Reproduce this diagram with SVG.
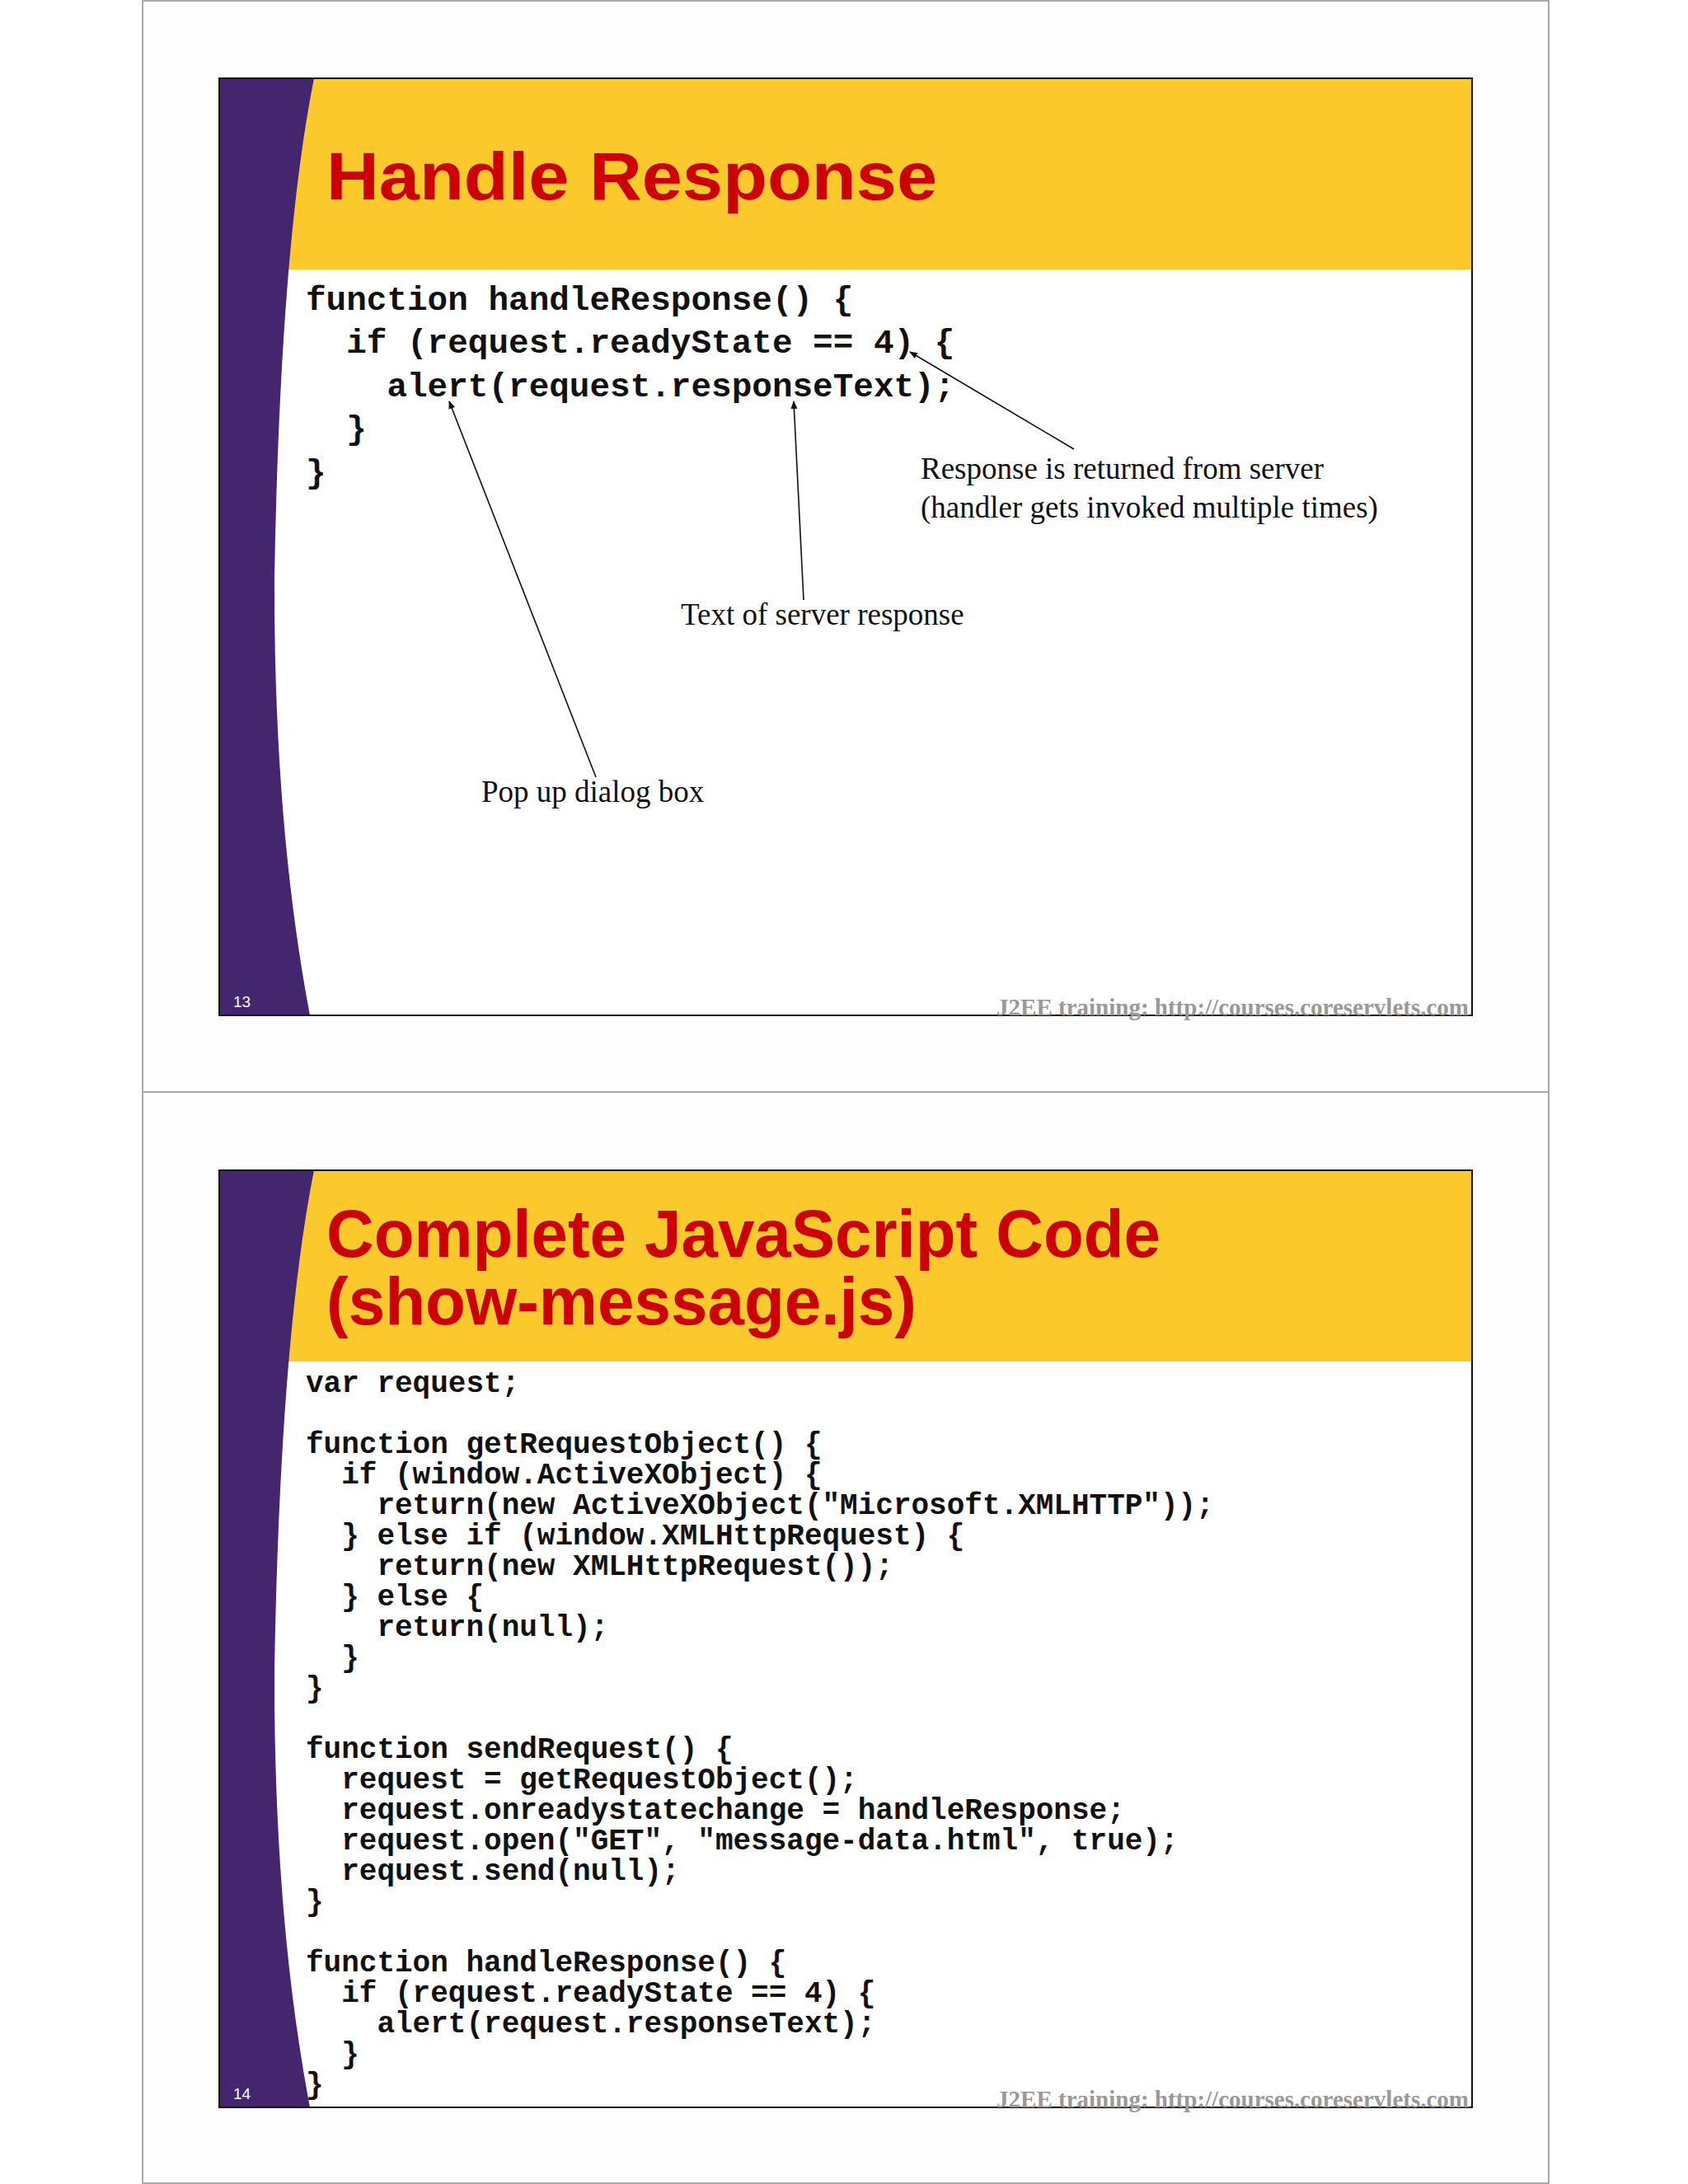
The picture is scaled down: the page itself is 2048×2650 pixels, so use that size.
<svg xmlns="http://www.w3.org/2000/svg" width="2048" height="2650" viewBox="0 0 2048 2650">
<style>
.title{font-family:"Liberation Sans",Arial,sans-serif;font-weight:bold;font-size:82px;fill:#cc0000}
.code1{font-family:"Liberation Mono","Courier New",monospace;font-weight:bold;font-size:41px;fill:#111;white-space:pre}
.code2{font-family:"Liberation Mono","Courier New",monospace;font-weight:bold;font-size:36px;fill:#111;white-space:pre}
.note{font-family:"Liberation Serif","Times New Roman",serif;font-size:37px;fill:#111}
.foot{font-family:"Liberation Serif","Times New Roman",serif;font-weight:bold;font-size:29px;fill:#999}
.num{font-family:"Liberation Sans",Arial,sans-serif;font-size:19px;fill:#fff}
.conn{stroke:#111;stroke-width:1.6;fill:none;marker-end:url(#ah)}
</style>
<defs>
<marker id="ah" markerWidth="10" markerHeight="10" refX="9" refY="5" orient="auto" markerUnits="userSpaceOnUse"><path d="M0,1 L10,5 L0,9 z" fill="#111"/></marker>
</defs>
<rect width="2048" height="2650" fill="#fff"/>
<rect x="173" y="1" width="1706" height="1324" fill="#fdfdfd" stroke="#aaa" stroke-width="2"/>
<rect x="173" y="1325" width="1706" height="1324" fill="#fdfdfd" stroke="#aaa" stroke-width="2"/>

<g id="slide13">
<rect x="266" y="95" width="1520" height="1137" fill="#fff"/>
<rect x="266" y="95" width="1520" height="232" fill="#fbc92b"/>
<path d="M266,95 L381,95 Q340,300 333,700 Q332,1000 376,1232 L266,1232 Z" fill="#44266e"/>
<rect x="266" y="95" width="1520" height="1137" fill="none" stroke="#111" stroke-width="2"/>
<text class="title" x="396" y="242" textLength="741" lengthAdjust="spacingAndGlyphs">Handle Response</text>
<text class="code1" x="371" y="376">function handleResponse() {</text>
<text class="code1" x="371" y="428">  if (request.readyState == 4) {</text>
<text class="code1" x="371" y="481">    alert(request.responseText);</text>
<text class="code1" x="371" y="533">  }</text>
<text class="code1" x="371" y="586">}</text>
<text class="note" x="1117" y="581">Response is returned from server</text>
<text class="note" x="1117" y="628">(handler gets invoked multiple times)</text>
<text class="note" x="826" y="758">Text of server response</text>
<text class="note" x="584" y="973">Pop up dialog box</text>
<text class="num" x="283" y="1222">13</text>
<text class="foot" x="1782" y="1232" text-anchor="end">J2EE training: http://courses.coreservlets.com</text>
</g>

<g id="connectors">
<line class="conn" x1="1303" y1="545" x2="1104" y2="427"/>
<line class="conn" x1="975" y1="728" x2="963" y2="487"/>
<line class="conn" x1="723" y1="943" x2="545" y2="487"/>
</g>

<g id="slide14">
<rect x="266" y="1420" width="1520" height="1137" fill="#fff"/>
<rect x="266" y="1420" width="1520" height="232" fill="#fbc92b"/>
<path d="M266,1420 L381,1420 Q340,1625 333,2025 Q332,2325 376,2557 L266,2557 Z" fill="#44266e"/>
<rect x="266" y="1420" width="1520" height="1137" fill="none" stroke="#111" stroke-width="2"/>
<text class="title" x="396" y="1525" textLength="1012" lengthAdjust="spacingAndGlyphs">Complete JavaScript Code</text>
<text class="title" x="396" y="1607" textLength="716" lengthAdjust="spacingAndGlyphs">(show-message.js)</text>
<text class="code2" x="371" y="1689">var request;</text>
<text class="code2" x="371" y="1763">function getRequestObject() {</text>
<text class="code2" x="371" y="1800">  if (window.ActiveXObject) {</text>
<text class="code2" x="371" y="1837">    return(new ActiveXObject("Microsoft.XMLHTTP"));</text>
<text class="code2" x="371" y="1874">  } else if (window.XMLHttpRequest) {</text>
<text class="code2" x="371" y="1911">    return(new XMLHttpRequest());</text>
<text class="code2" x="371" y="1948">  } else {</text>
<text class="code2" x="371" y="1985">    return(null);</text>
<text class="code2" x="371" y="2022">  }</text>
<text class="code2" x="371" y="2059">}</text>
<text class="code2" x="371" y="2133">function sendRequest() {</text>
<text class="code2" x="371" y="2170">  request = getRequestObject();</text>
<text class="code2" x="371" y="2207">  request.onreadystatechange = handleResponse;</text>
<text class="code2" x="371" y="2244">  request.open("GET", "message-data.html", true);</text>
<text class="code2" x="371" y="2281">  request.send(null);</text>
<text class="code2" x="371" y="2318">}</text>
<text class="code2" x="371" y="2392">function handleResponse() {</text>
<text class="code2" x="371" y="2429">  if (request.readyState == 4) {</text>
<text class="code2" x="371" y="2466">    alert(request.responseText);</text>
<text class="code2" x="371" y="2503">  }</text>
<text class="code2" x="371" y="2540">}</text>
<text class="num" x="283" y="2547">14</text>
<text class="foot" x="1782" y="2557" text-anchor="end">J2EE training: http://courses.coreservlets.com</text>
</g>
</svg>
